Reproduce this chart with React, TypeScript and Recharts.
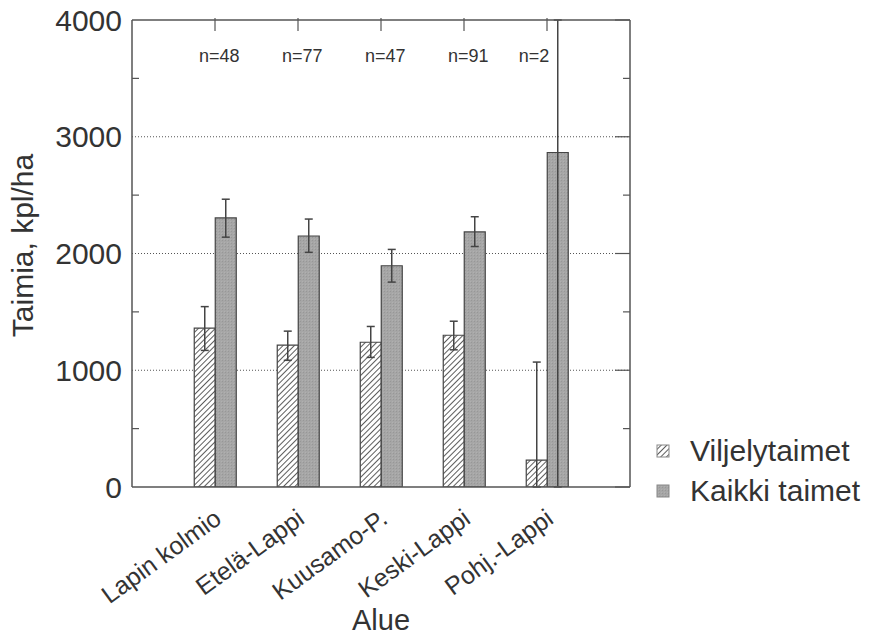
import React from "react";
import {
  BarChart,
  Bar,
  XAxis,
  YAxis,
  CartesianGrid,
  ErrorBar,
  LabelList,
  Legend,
} from "recharts";

const categories = ["Lapin kolmio", "Etelä-Lappi", "Kuusamo-P.", "Keski-Lappi", "Pohj.-Lappi"];
const viljely = [1360, 1215, 1240, 1300, 230];
const viljelyErr = [[190, 185], [130, 120], [130, 135], [125, 120], [230, 840]];
const kaikki = [2305, 2150, 1895, 2185, 2865];
// last interval runs past the top of the axis; cut at the frame
const kaikkiErr = [[165, 160], [140, 145], [140, 140], [125, 130], [2865, 1135]];
const nCounts = [48, 77, 47, 91, 2];
const yTicks = [0, 500, 1000, 1500, 2000, 2500, 3000, 3500, 4000];
const gridValues = [1000, 2000, 3000];
const legendOrder = ["viljely", "kaikki"];
const Y_MAX = 4000;

const data = categories.map((name, i) => ({
  name,
  viljely: viljely[i],
  viljelyErr: viljelyErr[i],
  kaikki: kaikki[i],
  kaikkiErr: kaikkiErr[i],
  n: nCounts[i],
}));

const FONT = '"Liberation Sans", Arial, sans-serif';
const TEXT = "#333";
const AXIS = "#555";

// left axis: labels at thousands, short inward ticks at the half-thousands
const LeftTick = ({ x, y, payload }: any) => {
  const v = payload.value;
  if (v % 1000 === 0) {
    return (
      <text x={x - 10} y={y} textAnchor="end" dominantBaseline="central" fontSize={30} fill={TEXT} fontFamily={FONT}>
        {v}
      </text>
    );
  }
  return <line x1={x} y1={y} x2={x + 7} y2={y} stroke={AXIS} strokeWidth={1.2} />;
};

const RightTick = ({ x, y, payload }: any) => {
  const len = payload.value % 1000 === 0 ? 15 : 7;
  return <line x1={x} y1={y} x2={x - len} y2={y} stroke={AXIS} strokeWidth={1.2} />;
};

const TopTick = ({ x, y }: any) => (
  <line x1={x} y1={y} x2={x} y2={y + 13} stroke={AXIS} strokeWidth={1.2} />
);

const BottomTick = ({ x, y, payload }: any) => (
  <g transform={`translate(${x + 8},${y + 33})`}>
    <text textAnchor="end" transform="rotate(-36)" fontSize={25} fill={TEXT} fontFamily={FONT}>
      {payload.value}
    </text>
  </g>
);

// n-label sits over the group; moved left when the error line runs to the top
const NLabel = ({ x, y, height, value, index }: any) => {
  const d = data[index];
  const hitsTop = d && d.kaikki + d.kaikkiErr[1] >= Y_MAX;
  return (
    <text
      x={hitsTop ? x + 2 : x + 4}
      y={y + height - 425}
      textAnchor={hitsTop ? "end" : "middle"}
      fontSize={18}
      fill={TEXT}
      fontFamily={FONT}
    >
      n={value}
    </text>
  );
};

const LegendBox = ({ payload }: any) => {
  const items = [...(payload || [])].sort(
    (a: any, b: any) => legendOrder.indexOf(a.dataKey) - legendOrder.indexOf(b.dataKey)
  );
  return (
    <div style={{ fontFamily: FONT, fontSize: 30, color: TEXT }}>
      {items.map((entry: any) => (
        <div key={entry.value} style={{ display: "flex", alignItems: "center", height: 40 }}>
          <svg width={14} height={14} style={{ marginRight: 20 }}>
            <rect x={1} y={1} width={12} height={12} fill={entry.color} stroke="#888" strokeWidth={1} />
          </svg>
          <span>{entry.value}</span>
        </div>
      ))}
    </div>
  );
};

export default function App() {
  return (
    <div style={{ position: "absolute", left: 0, top: 0, width: 871, height: 636, background: "#fff" }}>
      <svg width={0} height={0} style={{ position: "absolute" }}>
        <defs>
          <pattern id="hatch" patternUnits="userSpaceOnUse" width={4} height={4} patternTransform="rotate(45)">
            <rect width={4} height={4} fill="#fff" />
            <line x1={0} y1={0} x2={0} y2={4} stroke="#333" strokeWidth={1.6} />
          </pattern>
          <pattern id="grain" patternUnits="userSpaceOnUse" width={3} height={3}>
            <rect width={3} height={3} fill="#a6a6a6" />
            <rect width={1} height={1} fill="#979797" />
            <rect x={2} y={2} width={1} height={1} fill="#b0b0b0" />
          </pattern>
        </defs>
      </svg>
      <BarChart
        width={871}
        height={636}
        data={data}
        margin={{ top: 19, right: 240, bottom: 148, left: 131 }}
        barCategoryGap="25%"
        barGap={0}
      >
        <CartesianGrid
          vertical={false}
          horizontalValues={gridValues}
          yAxisId="left"
          xAxisId="bottom"
          stroke="#555"
          strokeDasharray="1 2"
        />
        <XAxis
          xAxisId="bottom"
          dataKey="name"
          height={1}
          padding={{ left: 41.5, right: 41.5 }}
          axisLine={{ stroke: AXIS, strokeWidth: 1.5 }}
          tickLine={false}
          tickSize={0}
          tick={<BottomTick />}
          interval={0}
          label={({ viewBox }: any) => (
            <text x={viewBox.x + viewBox.width / 2} y={viewBox.y + 143} textAnchor="middle" fontSize={29} fill={TEXT} fontFamily={FONT}>
              Alue
            </text>
          )}
        />
        <XAxis
          xAxisId="top"
          orientation="top"
          dataKey="name"
          height={1}
          padding={{ left: 41.5, right: 41.5 }}
          axisLine={{ stroke: AXIS, strokeWidth: 1.5 }}
          tickLine={false}
          tickSize={0}
          tick={<TopTick />}
          interval={0}
        />
        <YAxis
          yAxisId="left"
          width={1}
          domain={[0, Y_MAX]}
          ticks={yTicks}
          allowDataOverflow
          axisLine={{ stroke: AXIS, strokeWidth: 1.5 }}
          tickLine={false}
          tickSize={0}
          tickMargin={0}
          tick={<LeftTick />}
          interval={0}
          label={({ viewBox }: any) => {
            const cx = viewBox.x - 109;
            const cy = viewBox.y + viewBox.height / 2 - 8;
            return (
              <text x={cx} y={cy} transform={`rotate(-90 ${cx} ${cy})`} textAnchor="middle" dominantBaseline="central" fontSize={30} fill={TEXT} fontFamily={FONT}>
                Taimia, kpl/ha
              </text>
            );
          }}
        />
        <YAxis
          yAxisId="right"
          orientation="right"
          width={1}
          domain={[0, Y_MAX]}
          ticks={yTicks}
          allowDataOverflow
          axisLine={{ stroke: AXIS, strokeWidth: 1.5 }}
          tickLine={false}
          tickSize={0}
          tickMargin={0}
          tick={<RightTick />}
          interval={0}
        />
        <Legend
          layout="vertical"
          align="center"
          verticalAlign="middle"
          wrapperStyle={{ left: 656, top: 431, width: 215 }}
          content={<LegendBox />}
        />
        <Bar
          name="Viljelytaimet"
          dataKey="viljely"
          xAxisId="bottom"
          yAxisId="left"
          fill="url(#hatch)"
          stroke="#444"
          strokeWidth={1.2}
          isAnimationActive={false}
        >
          <ErrorBar dataKey="viljelyErr" width={4} stroke="#444" strokeWidth={1.5} />
        </Bar>
        <Bar
          name="Kaikki taimet"
          dataKey="kaikki"
          xAxisId="bottom"
          yAxisId="left"
          fill="url(#grain)"
          stroke="#444"
          strokeWidth={1.2}
          isAnimationActive={false}
        >
          <ErrorBar dataKey="kaikkiErr" width={4} stroke="#444" strokeWidth={1.5} />
          <LabelList dataKey="n" content={<NLabel />} />
        </Bar>
      </BarChart>
    </div>
  );
}
